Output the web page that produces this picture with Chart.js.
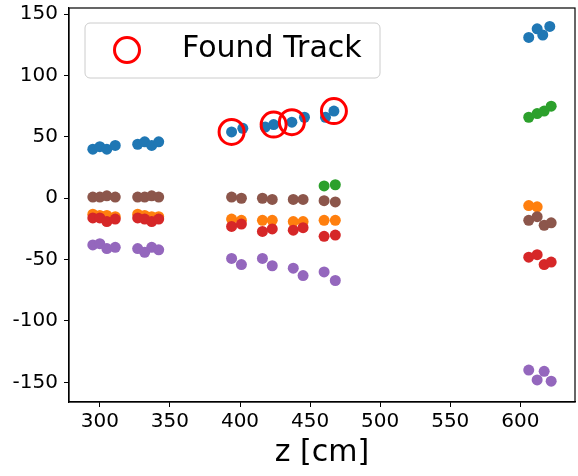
<!DOCTYPE html>
<html>
<head>
<meta charset="utf-8">
<script src="https://cdn.jsdelivr.net/npm/chart.js@4.4.1/dist/chart.umd.min.js"></script>
<style>
  html, body { margin: 0; padding: 0; background: #fff; }
  #wrap { width: 578px; height: 476px; }
</style>
</head>
<body>
<div id="wrap"><canvas id="canvas" width="578" height="476"></canvas></div>
<script>
// hits per track, z in cm
var zBlue   = [295, 300, 305, 311, 327, 332, 337, 342, 394, 402, 418, 424, 437, 446, 461, 467, 606, 612, 616, 621];
var yBlue   = [40, 42, 40, 43, 44, 46, 43, 46, 54, 57, 58, 60, 62, 66, 66, 71, 131, 138, 133, 140];
var zOrange = [295, 300, 305, 311, 327, 332, 337, 342, 394, 401, 416, 423, 438, 445, 460, 468, 606, 612];
var yOrange = [-13, -14, -14, -15, -13, -14, -15, -15, -17, -18, -18, -18, -19, -19, -18, -18, -6, -7];
var zGreen  = [460, 468, 606, 612, 617, 622];
var yGreen  = [10, 11, 66, 69, 71, 75];
var zRed    = [295, 300, 305, 311, 327, 332, 337, 342, 394, 401, 416, 423, 438, 445, 460, 468, 606, 612, 617, 622];
var yRed    = [-16, -16, -19, -17, -16, -17, -19, -17, -23, -21, -27, -25, -26, -24, -31, -30, -48, -46, -54, -52];
var zPurple = [295, 300, 305, 311, 327, 332, 337, 342, 394, 401, 416, 423, 438, 445, 460, 468, 606, 612, 617, 622];
var yPurple = [-38, -37, -41, -40, -41, -44, -40, -42, -49, -54, -49, -55, -57, -63, -60, -67, -140, -148, -141, -149];
var zBrown  = [295, 300, 305, 311, 327, 332, 337, 342, 394, 401, 416, 423, 438, 445, 460, 468, 606, 612, 617, 622];
var yBrown  = [1, 1, 2, 1, 1, 1, 2, 1, 1, 0, 0, -1, -1, -1, -2, -3, -18, -15, -22, -20];

// hits picked up by the track finder
var zFound = [394, 424, 437, 467];
var yFound = [54, 60, 62, 71];

var xTicks = [300, 350, 400, 450, 500, 550, 600];
var yTicks = [-150, -100, -50, 0, 50, 100, 150];

var FONT = "'DejaVu Sans', sans-serif";

function pts(zs, ys) {
    return zs.map(function(z, i) { return { x: z, y: ys[i] }; });
}

function hits(label, zs, ys, color, order) {
    return {
        label: label,
        data: pts(zs, ys),
        backgroundColor: color,
        borderWidth: 0,
        pointRadius: 5.5,
        pointHoverRadius: 5.5,
        order: order
    };
}

// tick labels may stick out of the plot, don't reserve room for them
function noEdgePadding(s) {
    s.paddingTop = 0;
    s.paddingBottom = 0;
    s.paddingLeft = 0;
    s.paddingRight = 0;
}

// box around the plot + legend in the upper left corner
var framePlugin = {
    id: 'frame',
    afterDraw: function(chart) {
        var ctx = chart.ctx;
        var a = chart.chartArea;
        ctx.save();
        ctx.strokeStyle = '#000';
        ctx.lineWidth = 1.2;
        ctx.strokeRect(a.left, a.top, a.right - a.left, a.bottom - a.top);

        // legend box
        var bx = 85, by = 23, bw = 295, bh = 55, r = 5;
        ctx.globalAlpha = 0.8;
        ctx.fillStyle = '#fff';
        ctx.beginPath();
        ctx.roundRect(bx, by, bw, bh, r);
        ctx.fill();
        ctx.globalAlpha = 1;
        ctx.strokeStyle = '#cccccc';
        ctx.lineWidth = 1;
        ctx.stroke();

        ctx.strokeStyle = '#ff0000';
        ctx.lineWidth = 3;
        ctx.beginPath();
        ctx.arc(127, 50, 12.5, 0, Math.PI * 2);
        ctx.stroke();

        ctx.fillStyle = '#000';
        ctx.font = '30px ' + FONT;
        ctx.textBaseline = 'middle';
        ctx.fillText('Found Track', 182, 49);
        ctx.restore();
    }
};

var canvasElement = document.getElementById('canvas');
var config = {
    type: 'scatter',
    data: {
        datasets: [
            hits('track 1', zBlue, yBlue, '#1f77b4', 7),
            hits('track 2', zOrange, yOrange, '#ff7f0e', 6),
            hits('track 3', zGreen, yGreen, '#2ca02c', 5),
            hits('track 4', zRed, yRed, '#d62728', 4),
            hits('track 5', zPurple, yPurple, '#9467bd', 3),
            hits('track 6', zBrown, yBrown, '#8c564b', 2),
            {
                label: 'Found Track',
                data: pts(zFound, yFound),
                backgroundColor: 'rgba(0,0,0,0)',
                borderColor: '#ff0000',
                borderWidth: 3,
                pointRadius: 12.5,
                pointHoverRadius: 12.5,
                order: 1
            }
        ]
    },
    options: {
        responsive: false,
        animation: false,
        layout: { autoPadding: false, padding: { top: 8, right: 3, left: 0, bottom: 0 } },
        plugins: {
            legend: { display: false },
            tooltip: { enabled: false }
        },
        scales: {
            x: {
                type: 'linear',
                min: 278,
                max: 639,
                afterFit: function(s) { s.height = 74; noEdgePadding(s); },
                afterBuildTicks: function(s) { s.ticks = xTicks.map(function(v) { return { value: v }; }); },
                border: { display: true, color: '#000', width: 1.2 },
                grid: { drawOnChartArea: false, drawTicks: true, tickLength: 5, color: '#000' },
                ticks: { color: '#000', font: { family: FONT, size: 20 }, padding: 3, maxRotation: 0 },
                title: {
                    display: true,
                    text: 'z [cm]',
                    color: '#000',
                    font: { family: FONT, size: 30 },
                    padding: { top: 0, bottom: 5 }
                }
            },
            y: {
                type: 'linear',
                min: -166,
                max: 155,
                afterFit: function(s) { s.width = 69; noEdgePadding(s); },
                afterBuildTicks: function(s) { s.ticks = yTicks.map(function(v) { return { value: v }; }); },
                border: { display: true, color: '#000', width: 1.2 },
                grid: { drawOnChartArea: false, drawTicks: true, tickLength: 5, color: '#000' },
                ticks: { color: '#000', font: { family: FONT, size: 20 }, padding: 6 }
            }
        }
    },
    plugins: [framePlugin]
};

var scatterChart = new Chart(canvasElement, config);
</script>
</body>
</html>
